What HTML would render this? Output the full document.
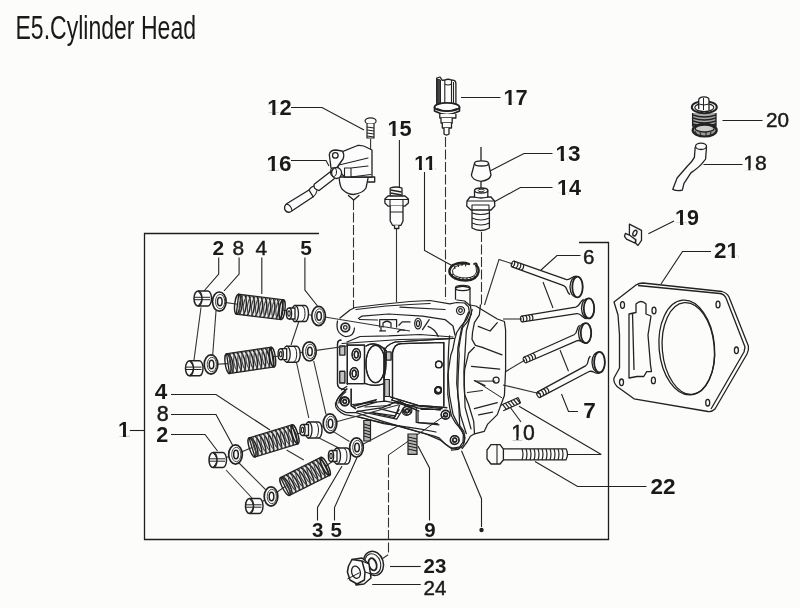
<!DOCTYPE html>
<html><head><meta charset="utf-8">
<style>
html,body{margin:0;padding:0;background:#fcfcfa;width:800px;height:608px;overflow:hidden}
svg{display:block;filter:grayscale(100%)}
text{font-family:"Liberation Sans",sans-serif;fill:#1a1a1a}
.lb{font-weight:bold}
.lr{stroke:#1a1a1a;stroke-width:0.45px}
</style></head><body>
<svg width="800" height="608" viewBox="0 0 800 608">
<defs>
  <g id="spring">
    <path d="M0,-10 L45,-10 L45,10 L0,10 Z" stroke="#222" stroke-width="1.3" fill="#e6e6e6"/>
    <ellipse cx="0" cy="0" rx="2.8" ry="10" fill="none" stroke="#222" stroke-width="1.4"/>
    <ellipse cx="45" cy="0" rx="2.8" ry="10" fill="none" stroke="#222" stroke-width="1.4"/>
    <path d="M2.0,-10 C5.5,-5 5.5,5 3.0,10 M6.1,-10 C9.6,-5 9.6,5 7.1,10 M10.2,-10 C13.7,-5 13.7,5 11.2,10 M14.3,-10 C17.8,-5 17.8,5 15.3,10 M18.4,-10 C21.9,-5 21.9,5 19.4,10 M22.5,-10 C26.0,-5 26.0,5 23.5,10 M26.6,-10 C30.1,-5 30.1,5 27.6,10 M30.7,-10 C34.2,-5 34.2,5 31.7,10 M34.8,-10 C38.3,-5 38.3,5 35.8,10 M38.9,-10 C42.4,-5 42.4,5 39.9,10 M43.0,-10 C46.5,-5 46.5,5 44.0,10" stroke="#222" stroke-width="1.5" fill="none"/>
    <path d="M4.5,-10 C1.0,-4 1.0,4 4.5,10 M8.6,-10 C5.1,-4 5.1,4 8.6,10 M12.7,-10 C9.2,-4 9.2,4 12.7,10 M16.8,-10 C13.3,-4 13.3,4 16.8,10 M20.9,-10 C17.4,-4 17.4,4 20.9,10 M25.0,-10 C21.5,-4 21.5,4 25.0,10 M29.1,-10 C25.6,-4 25.6,4 29.1,10 M33.2,-10 C29.7,-4 29.7,4 33.2,10 M37.3,-10 C33.8,-4 33.8,4 37.3,10 M41.4,-10 C37.9,-4 37.9,4 41.4,10" stroke="#444" stroke-width="1.1" fill="none"/>
  </g>
  <g id="washer">
    <ellipse cx="0" cy="0" rx="6.8" ry="9.6" fill="#fcfcfa" stroke="#222" stroke-width="1.7"/>
    <ellipse cx="0.8" cy="0" rx="4.6" ry="7.2" fill="none" stroke="#333" stroke-width="0.9"/>
    <ellipse cx="0.5" cy="0" rx="2.3" ry="4.2" fill="none" stroke="#222" stroke-width="1.5"/>
  </g>
  <g id="collet">
    <path d="M-5,-7.5 L5,-7.5 A3.5,7.5 0 0 1 5,7.5 L-5,7.5" fill="#fcfcfa" stroke="#222" stroke-width="1.4"/>
    <ellipse cx="-5" cy="0" rx="4" ry="7.5" fill="#fcfcfa" stroke="#222" stroke-width="1.5"/>
    <path d="M-9,-1.2 L7,-1.2 M-9,1.2 L7,1.2" stroke="#222" stroke-width="1" fill="none"/>
    <path d="M-5,-7.5 Q-2,-4 -1,-1.2 M-5,7.5 Q-2,4 -1,1.2" stroke="#222" stroke-width="1" fill="none"/>
  </g>
  <g id="cup">
    <path d="M-3,-8 L7,-8 A3.5,8 0 0 1 7,8 L-3,8 Z" fill="#fcfcfa" stroke="#222" stroke-width="1.4"/>
    <ellipse cx="-3" cy="0" rx="3.5" ry="8" fill="#fcfcfa" stroke="#222" stroke-width="1.3"/>
    <path d="M-9,-5.5 L-3,-5.5 L-3,5.5 L-9,5.5" fill="#fcfcfa" stroke="#222" stroke-width="1.3"/>
    <ellipse cx="-9" cy="0" rx="2.6" ry="5.5" fill="#fcfcfa" stroke="#222" stroke-width="1.4"/>
    <ellipse cx="-9" cy="0" rx="1.2" ry="2.6" fill="none" stroke="#222" stroke-width="1.1"/>
    <path d="M4,-7.5 A3,7.5 0 0 1 4,7.5" fill="none" stroke="#222" stroke-width="1"/>
  </g>
  <g id="valve">
    <path d="M0,-3 L55,-3.3 C60,-3.6 59,-8.5 64,-9.8 M0,3 L55,3.3 C60,3.6 59,8.5 64,9.8" stroke="#222" stroke-width="1.3" fill="none"/>
    <ellipse cx="0" cy="0" rx="1.5" ry="3" fill="none" stroke="#222" stroke-width="1.2"/>
    <path d="M4,-3 q2,3 0,6 M7,-3 q2,3 0,6 M10,-3 q2,3 0,6" stroke="#222" stroke-width="1.2" fill="none"/>
  </g>
</defs>

<!-- Title -->
<text x="15.5" y="38.5" font-size="32.5" textLength="180.5" lengthAdjust="spacingAndGlyphs" fill="#2a2a2a">E5.Cylinder Head</text>

<!-- Frame -->
<path d="M319,233.5 L144.5,233.5 L144.5,539.5 L608.5,539.5 L608.5,242.5 L579,242.5" stroke="#1e1e1e" stroke-width="1.3" fill="none"/>

<!-- Labels -->
<g text-anchor="middle">
<text class="lb" x="279.4" y="115.2" font-size="21.9">12</text>
<text class="lb" x="278.9" y="170.5" font-size="22.5">16</text>
<text class="lb" x="515.5" y="104.8" font-size="21.8">17</text>
<text class="lb" x="399.5" y="135.8" font-size="21.8">15</text>
<text class="lb" x="425.0" y="169.8" font-size="20.5">11</text>
<text class="lb" x="568.0" y="160.7" font-size="22.5">13</text>
<text class="lb" x="569.0" y="194.7" font-size="21.6">14</text>
<text class="lr" x="777.4" y="126.6" font-size="20.7">20</text>
<text class="lr" x="755.1" y="170.4" font-size="21.1">18</text>
<text class="lb" x="687.0" y="225.1" font-size="21.5">19</text>
<text class="lb" x="726.4" y="257.8" font-size="22.4">21</text>
<text class="lb" x="218.3" y="254.9" font-size="20.9">2</text>
<text class="lr" x="238.2" y="254.9" font-size="20.9">8</text>
<text class="lr" x="261.4" y="254.9" font-size="20.9">4</text>
<text class="lb" x="306.0" y="254.9" font-size="20.9">5</text>
<text class="lb" x="160.9" y="398.9" font-size="22.5">4</text>
<text class="lr" x="162.8" y="420.5" font-size="21.5">8</text>
<text class="lb" x="162.2" y="442.1" font-size="21.5">2</text>
<text class="lb" x="123.9" y="436.5" font-size="21.5">1</text>
<text class="lb" x="317.8" y="537.0" font-size="20.5">3</text>
<text class="lb" x="336.1" y="537.0" font-size="20.5">5</text>
<text class="lb" x="429.9" y="537.0" font-size="20.5">9</text>
<text class="lb" x="435.0" y="572.6" font-size="20.5">23</text>
<text class="lr" x="435.0" y="595.1" font-size="20.5">24</text>
<text class="lb" x="589.5" y="418.4" font-size="22.5">7</text>
<text class="lr" x="523.1" y="439.8" font-size="21.2">10</text>
<text class="lb" x="663.1" y="493.8" font-size="22.5">22</text>
<text class="lr" x="588.8" y="263.8" font-size="20.5">6</text>
</g>

<!-- hide feet of 1 -->
<g fill="#fcfcfa"><rect x="267.85" y="112.70" width="4.48" height="2.82"/><rect x="275.56" y="112.70" width="3.55" height="2.82"/><rect x="267.03" y="167.93" width="4.61" height="2.89"/><rect x="274.96" y="167.93" width="3.64" height="2.89"/><rect x="504.00" y="102.31" width="4.46" height="2.80"/><rect x="511.68" y="102.31" width="3.53" height="2.80"/><rect x="388.00" y="133.31" width="4.46" height="2.80"/><rect x="395.68" y="133.31" width="3.53" height="2.80"/><rect x="414.75" y="167.46" width="4.20" height="2.64"/><rect x="421.97" y="167.46" width="3.32" height="2.64"/><rect x="425.02" y="167.46" width="4.20" height="2.64"/><rect x="432.24" y="167.46" width="3.32" height="2.64"/><rect x="556.13" y="158.13" width="4.61" height="2.89"/><rect x="564.06" y="158.13" width="3.64" height="2.89"/><rect x="557.60" y="192.23" width="4.42" height="2.78"/><rect x="565.21" y="192.23" width="3.50" height="2.78"/><rect x="743.97" y="167.99" width="4.32" height="2.71"/><rect x="750.50" y="167.99" width="4.22" height="2.71"/><rect x="675.65" y="222.64" width="4.40" height="2.76"/><rect x="683.23" y="222.64" width="3.48" height="2.76"/><rect x="727.02" y="255.24" width="4.59" height="2.88"/><rect x="734.92" y="255.24" width="3.63" height="2.88"/><rect x="118.53" y="434.04" width="4.40" height="2.76"/><rect x="126.11" y="434.04" width="3.48" height="2.76"/><rect x="511.92" y="437.38" width="4.34" height="2.73"/><rect x="518.48" y="437.38" width="4.24" height="2.73"/></g>
<!-- Leader lines -->
<g stroke="#222" stroke-width="1.1" fill="none">
<path d="M291,107.5 L322,107.5 L364,130"/>
<path d="M291,160.5 L326,160.5 L329,166"/>
<path d="M399.4,140 L399.4,187"/>
<path d="M461,97.5 L500.5,97.5"/>
<path d="M552.5,153.5 L524,153.5 L490,171"/>
<path d="M552.5,187.5 L520.3,187.5 L494,202"/>
<path d="M424.5,172 L424.5,250.5 L452.3,265.7"/>
<path d="M722.5,120.5 L762.5,120.5"/>
<path d="M703.5,164.5 L742.5,164.5"/>
<path d="M648.4,233.7 L674,221"/>
<path d="M711,251.5 L682.5,251.5 L661,284"/>
<path d="M580.5,255.5 L557,255.5 L541,270 M543,282 L553,308"/>
<path d="M578,411.5 L568.5,411.5 L561.5,394 M568.5,371.3 L560,350"/>
<path d="M510,407 L521,422"/>
<path d="M646.5,486.5 L577.6,486.5 L535,461.5"/>
<path d="M601.3,454.5 L567.5,454.5 M601.3,454.5 L519,406.3"/>
<path d="M218.7,257.5 L218.7,274 L204,291"/>
<path d="M239.1,257.5 L239.1,274 L224,291"/>
<path d="M261.8,257.5 L261.8,294"/>
<path d="M304.9,257.5 L304.9,290 L317.5,306"/>
<path d="M129.8,430.5 L144.5,430.5"/>
<path d="M171,394.5 L216,394.5 L270,430"/>
<path d="M171,414.5 L216,414.5 L232.5,445"/>
<path d="M171,434.5 L205,434.5 L217.5,451"/>
<path d="M317.5,520.5 L317.5,507.5 L342,466"/>
<path d="M334.5,520.5 L334.5,507.5 L357,457.5"/>
<path d="M429.5,520.5 L429.5,468 L418,446"/>
<path d="M481.5,527 L481.5,498.7 L461.5,450.8"/>
<path d="M390,566.5 L420.7,566.5"/>
<path d="M372.2,584.5 L420.7,584.5"/>
</g>
<circle cx="481.5" cy="530" r="2.2" fill="#222"/>

<!-- dashed / axis lines -->
<g stroke="#333" stroke-width="1.1" fill="none">
<path d="M353.5,200 L353.5,312" stroke-dasharray="10,2.5"/>
<path d="M445.5,137 L445.5,300" stroke-dasharray="10,2.5"/>
<path d="M388.5,455 L388.5,554.6 L382.2,558.7" stroke-dasharray="10,2.5"/>
<path d="M370.6,139 L370.6,178"/>
<path d="M396.5,228.5 L396.5,302"/>
<path d="M481.5,232 L481.5,305" stroke-dasharray="10,2.5"/>
<path d="M513,264 L499,259.5 L484.5,305"/>
<path d="M522,319 L503,319"/>
<path d="M525,360 L505,372"/>
<path d="M541,394 L503,385"/>
<!-- connecting between rows -->
<path d="M201,307.5 L194,360"/>
<path d="M216,311 L212.5,357.5"/>
<path d="M299,321 L291,345"/>
<path d="M296.4,362 L308.8,418"/>
<path d="M313.7,361 L326,414.4"/>
<path d="M226,470 L252,498"/>
<path d="M238.5,462.5 L265.6,489.6"/>
<path d="M318.6,437.8 L340.8,448.9"/>
<path d="M333.4,431.6 L349.4,441.5"/>
<path d="M286.6,450 L303.8,460"/>
</g>


<!-- ===== Cylinder head ===== -->
<g stroke="#222" stroke-width="1.25" fill="none" stroke-linejoin="round" stroke-linecap="round">
<!-- guide cylinder (part under 11) -->
<path d="M455.5,301 L455.5,288 Q462.5,284.5 470,288 L470,305" fill="#fcfcfa"/>
<ellipse cx="462.7" cy="288" rx="7.3" ry="2.6"/>
<!-- fill body -->
<path d="M340,318 L355,307.5 L410,301.5 L460,299.5 Q470,301 471,312 L458,333 L453,347 L449,375 L449,409 L453.6,423.7 L464,437.5 Q464,447 456,449 L399,426.4 L355.7,416.5 Q337,413 335.4,403.7 L337.5,384 L337.5,342 Z" fill="#fcfcfa" stroke="none"/>
<!-- top rail outer top edge (double) -->
<path d="M340,318 L350,310 L355,307.5 L380,304.5 L410,301.5 L430,300.5 L449.8,303.9 L456.7,302.5 L464.6,303 L468.5,306.9 L469.5,312.8 L466.6,319.7 L460.6,326.6 L456.7,332.5 L454.7,339.4 L452.8,349.3 L450.8,355 L447.8,374.7 L447.8,394.4 L449.8,408.3 L451.4,415.7 L455.6,423.1 L461.3,429.7 L463.4,434.6 L463,442 L459.7,446.9 L451.4,448.6"/>
<path d="M356,309.5 L386,306 L410,304.5 L430,303.5"/>
<path d="M457,300 L464.6,301 L470.5,305.9 L471.5,313.8 L467.5,321.7 L462.6,327.6 L460.6,337.5 L458.7,349.3 L459.2,355 L458.2,374.7 L457.7,394.4 L458.8,405 L459.7,425.6 L463.8,431.3 L465,437.9 L463,445.3 L458,449.4 L451.4,450.2"/>
<!-- rail inner lines -->
<path d="M358.4,318.5 L361.7,316.2 L388.7,314 L422.5,316.2 L445,319.6 L453,326 L455,335"/>
<path d="M400,307.2 L445,309.5"/>
<path d="M359.5,319.5 L377.5,320"/>
<path d="M347,342 L360,336.5 L388.7,335.9 L420,334.5 L453,337"/>
<path d="M342,343.5 L400,339.5 L454,338.5"/>
<!-- left boss top -->
<path d="M337.5,321 Q335,333 345,336.5 Q354,337 354.5,328"/>
<circle cx="345.3" cy="327.4" r="4.3" stroke-width="1.8"/><circle cx="345.3" cy="327.4" r="1.8"/>
<circle cx="460.5" cy="310.5" r="4"/><circle cx="460.5" cy="310.5" r="1.8"/>
<!-- internal top features -->
<path d="M379.7,327 L379.7,319.6 L396.6,319.6 L396.6,327 M383,327 L383,323 Q387,319.5 391,323 L391,327"/>
<path d="M379.7,330.9 L385.4,330.9 M381,327 L381,331"/>
<path d="M398.9,325.2 L402.2,321.9 L410,321.9 M397.7,332 Q400,329 404.5,330.3"/>
<ellipse cx="418" cy="323.6" rx="3.3" ry="5.3"/><ellipse cx="418" cy="323.6" rx="1.5" ry="3"/>
<path d="M422.5,329.7 L429.2,319.6 M428,326.4 Q435,329 438.2,336.5"/>
<!-- right strip / face boundary -->
<path d="M480.4,305 L479.4,314.8 L474.4,322.7 L472.5,332.5 L472,339.4 L475.4,345.4 L482.3,347.3"/>
<path d="M474.4,347.3 L468.5,353.3 L464.6,369.8 L464.1,384.6 L464.6,394.4 L468.5,404.3 L473.7,421.4 L474.5,433.8 L470.4,436.3 L467.1,442 L462.1,448.6"/>
<!-- left frame -->
<path d="M341,340 Q337.5,340 337.5,344 L337.5,384 Q337.5,389 345,389.5"/>
<path d="M347.3,344 L347.3,384"/>
<path d="M347.3,345 L364.5,345 L364.5,383.5 L347.3,383.5"/>
<ellipse cx="356.3" cy="354.5" rx="4.2" ry="6"/><ellipse cx="356.3" cy="354.5" rx="2" ry="3.3"/>
<ellipse cx="354.2" cy="373.5" rx="4.2" ry="6"/><ellipse cx="354.2" cy="373.5" rx="2" ry="3.3"/>
<ellipse cx="375.5" cy="364" rx="9.5" ry="18.7"/>
<path d="M384,348 Q388,363 384,378"/>
<path d="M366,346 Q376,340 386.4,351"/>
<path d="M365,383.5 Q375,387 383,384"/>
<!-- recess -->
<path d="M384,401 L384,353 Q385,345 395,342 L452,338.5"/>
<path d="M392.5,399 L392.5,353 Q394,344 401,343.7 L443.8,342.5 L443.8,406"/>
<path d="M390.4,397 L418,405.3 L446.7,407.6"/>
<path d="M391.5,400 L418,408 L440,410"/>
<circle cx="438.8" cy="364.4" r="3.3"/><circle cx="438" cy="390.6" r="3.3"/>
<!-- tabs -->
<rect x="339.8" y="346" width="5" height="9" fill="#c4c4c4" stroke-width="1.1"/>
<rect x="339.8" y="371.4" width="5" height="11.5" fill="#c4c4c4" stroke-width="1.1"/>
<rect x="386.4" y="352" width="4.6" height="8" fill="#c4c4c4" stroke-width="1.1"/>
<rect x="384.7" y="379.5" width="4.6" height="17" fill="#c4c4c4" stroke-width="1.1"/>
<!-- bottom left boss & rail -->
<path d="M346.8,388.9 Q338,396 336.6,401.2 Q335.5,409 346.4,412.6 L356.1,412.6 L383.7,421.6 L419.5,432.1 L435,436.3 L439.1,437.9 L444.9,443.7 L451.4,448.6"/>
<path d="M357.7,416.7 L383.7,423.6 L419.5,428.9 L436,432"/>
<path d="M341.5,389.9 L346.8,386.5"/>
<circle cx="344.7" cy="401.2" r="4.4" stroke-width="1.8"/><circle cx="344.7" cy="401.2" r="1.9"/>
<path d="M351.2,389 L351.2,405.7 L355.7,408.6"/>
<path d="M352,404.5 L385.4,401.2 L403.2,404.5 L442.2,408.6"/>
<path d="M354.5,406.1 L375.6,400.4"/>
<path d="M357.7,411 L396.7,419.1 L403,409"/>
<path d="M372.4,412.6 L395.1,415.9"/>
<path d="M365,407 L390,405.5"/>
<path d="M416.2,407.8 L416.2,422.4 L439,424.8"/>
<path d="M421,409.4 L440.6,409.4"/>
<circle cx="406.5" cy="411" r="4.4"/><circle cx="406.5" cy="411" r="2"/>
<circle cx="445.5" cy="415" r="4.4"/><circle cx="445.5" cy="415" r="2"/>
<circle cx="454.6" cy="440.2" r="4.4"/><circle cx="454.6" cy="440.2" r="2"/>
<circle cx="438.4" cy="389.7" r="3"/>
<path d="M388.5,455 L445.5,415" stroke-width="1"/>
<!-- right strip -->
<path d="M449.5,335.8 Q447.5,360 448.4,380 L449.5,395.5 L453.1,414.6 L460.3,428.9 Q466,436 464,443"/>
<path d="M468.6,312 L461.5,328.6 L457.9,347.7 L456.7,383.5 L460.3,414.6 L466.3,433.7"/>
<path d="M472.2,309.5 L466.3,331 L463.9,371.6 L465.1,407.4 L471,428.9"/>
<!-- left frame -->
<path d="M341,340 Q337.5,340 337.5,344 L337.5,384 Q337.5,389 345,389.5"/>
<path d="M347.3,344 L347.3,384"/>
<path d="M347.3,345 L364.5,345 L364.5,383.5 L347.3,383.5"/>
<ellipse cx="356.3" cy="354.5" rx="4.2" ry="6"/><ellipse cx="356.3" cy="354.5" rx="2" ry="3.3"/>
<ellipse cx="354.2" cy="373.5" rx="4.2" ry="6"/><ellipse cx="354.2" cy="373.5" rx="2" ry="3.3"/>
<ellipse cx="375.5" cy="364" rx="9.5" ry="18.7"/>
<path d="M384,348 Q388,363 384,378"/>
<path d="M366,346 Q376,340 386.4,351"/>
<path d="M365,383.5 Q375,387 383,384"/>
<!-- recess -->
<path d="M384,401 L384,353 Q385,345 395,342 L452,338.5"/>
<path d="M392.5,399 L392.5,353 Q394,344 401,343.7 L443.8,342.5 L443.8,406"/>
<path d="M390.4,397 L418,405.3 L446.7,407.6"/>
<path d="M391.5,400 L418,408 L440,410"/>
<circle cx="438.8" cy="364.4" r="3.3"/><circle cx="438" cy="390.6" r="3.3"/>
<!-- tabs -->
<rect x="339.8" y="346" width="5" height="9" fill="#c4c4c4" stroke-width="1.1"/>
<rect x="339.8" y="371.4" width="5" height="11.5" fill="#c4c4c4" stroke-width="1.1"/>
<rect x="386.4" y="352" width="4.6" height="8" fill="#c4c4c4" stroke-width="1.1"/>
<rect x="384.7" y="379.5" width="4.6" height="17" fill="#c4c4c4" stroke-width="1.1"/>
<!-- bottom left boss & rail -->
<path d="M346.8,388.9 Q338,396 335.4,403.7 Q335,410 344.8,414.6 L355.7,416.5 L399,426.4 L426,434 L439.8,439.8 L449,446.7 Q456,450 462,447"/>
<path d="M345.8,391.8 Q339,397 338.9,403"/>
<circle cx="344.8" cy="401.7" r="4"/><circle cx="344.8" cy="401.7" r="1.8"/>
<path d="M351.2,389 L351.2,405.7 L355.7,408.6"/>
<path d="M353.7,405.7 L376.4,399.7 M357.6,407.6 L376.4,402.2"/>
<path d="M356.7,411.6 L382.3,407.6 L399,400.7 L418,411 L418,422.6 L437.5,423.7"/>
<path d="M371.5,412.6 L394.2,417.5 L399,409.6 M379.4,408.6 L399,413.6"/>
<path d="M396,401.9 L419,411 M395,416.8 L399.6,405.3"/>
<circle cx="407.6" cy="410.5" r="4.3"/><circle cx="407.6" cy="410.5" r="2"/>
<circle cx="445.6" cy="414.5" r="4.3"/><circle cx="445.6" cy="414.5" r="2"/>
<circle cx="454.8" cy="439.8" r="4.3"/><circle cx="454.8" cy="439.8" r="2"/>
<circle cx="438.4" cy="389.7" r="3"/>
<!-- right face -->
<path d="M470,305 L475.8,306 L497.3,319 L504.4,321.5 L505.6,330 L505.6,370 L504.4,395.5 L497.3,414.6 L487.7,424.1 L484.3,431.3 L474.5,433.8"/>
<path d="M478.2,326.3 L490.1,331 L497.3,322.7"/>
<path d="M482.3,347.3 L502,354.9"/>
<path d="M471.5,366.3 L499.7,369.2"/>
<path d="M474.4,380.6 L485,385.6"/>
<path d="M467.5,392.5 L482.3,390.5"/>
<path d="M474.4,408.7 L497.3,402.6"/>
<path d="M478.6,414.9 L492.5,412.2"/>
<circle cx="496.1" cy="380" r="3"/>
<path d="M475.8,381.1 L494.9,381.1 M475.8,381.1 L502,397.9" stroke-width="1"/>
</g>
<!-- studs under head -->
<g stroke="#222" stroke-width="1.2" fill="#b5b5b5">
<path d="M363.8,420.5 L363.8,441 L370.5,441 L370.5,420.5 Z"/>
<path d="M364,424 L370.5,426 M364,427 L370.5,429 M364,430 L370.5,432 M364,433 L370.5,435 M364,436 L370.5,438" fill="none"/>
<path d="M408,434 L408,454.4 L417,454.4 L417,434 Z"/>
<path d="M408,437 L417,439 M408,440 L417,442 M408,443 L417,445 M408,446 L417,448 M408,449 L417,451" fill="none"/>
</g>
<!-- stud 10 -->
<g transform="translate(502,408) rotate(-24)" stroke="#222" stroke-width="1.2" fill="none">
<path d="M0,-3 L19,-3 M0,3 L19,3 M19,-3 L19,3"/>
<path d="M2,-3 l1.5,6 M5,-3 l1.5,6 M8,-3 l1.5,6 M11,-3 l1.5,6 M14,-3 l1.5,6 M17,-3 l1.5,6"/>
</g>
<!-- bolt 22 -->
<g stroke="#222" stroke-width="1.3" fill="#fcfcfa">
<path d="M491,444.6 L500,444.6 L503.4,449 L503.4,460 L500,464 L491,464 L487,459 L487,450 Z"/>
<path d="M497,445 L497,464" fill="none" stroke-width="1.1"/>
<path d="M503.4,448.8 L566,448.8 Q569,454 566,459.8 L503.4,459.8" fill="none"/>
<path d="M522,449 q2,5 0,11 M526,449 q2,5 0,11 M530,449 q2,5 0,11 M534,449 q2,5 0,11 M538,449 q2,5 0,11 M542,449 q2,5 0,11 M546,449 q2,5 0,11 M550,449 q2,5 0,11 M554,449 q2,5 0,11 M558,449 q2,5 0,11 M562,449 q2,5 0,11" fill="none" stroke-width="1.2"/>
</g>


<!-- ===== Gasket 21 ===== -->
<g stroke="#222" stroke-width="1.3" fill="none" stroke-linejoin="round">
<path d="M614,302 L636,285 Q639,283 643,283 L722,291.5 Q727,293 729,297 L748.4,346 Q749,350 747,354 L715,409 Q712,412 708,411.5 L634,398.8 L617,386.5 Q613,382 614,378 L619.5,368 L619.5,335 L618,315 Z"/>
<path d="M638,285.5 L720,293.5 Q724,294 726,298 L745,347 L744,352 L711,409"/>
<ellipse cx="686.8" cy="347.5" rx="27.7" ry="47.5" transform="rotate(-5 686.8 347.5)"/>
<ellipse cx="688.3" cy="348.5" rx="26" ry="46" transform="rotate(-5 688.3 348.5)"/>
<path d="M629,378 L629,314 L636,312.5 L636,304 Q641,299 646,304 L646,314 L651,316 L648,335 L650.5,365 L651.5,371.7 L646.7,371.7 L643.8,376.5 L637,376.5 Z"/>
<path d="M634,370 L632.5,313"/>
<ellipse cx="622.5" cy="305" rx="2" ry="3.3"/>
<ellipse cx="654" cy="310.5" rx="2" ry="3.3"/>
<ellipse cx="718" cy="304.5" rx="2" ry="3.3"/>
<ellipse cx="736.4" cy="350.3" rx="2" ry="3.3"/>
<ellipse cx="707.7" cy="402.7" rx="2" ry="3.3"/>
<ellipse cx="621.5" cy="382.3" rx="2" ry="3.3"/>
<ellipse cx="653.4" cy="380.4" rx="2" ry="3.3"/>
</g>

<!-- ===== Part 19 clip ===== -->
<g stroke="#222" stroke-width="1.3" fill="#fcfcfa" stroke-linejoin="round">
<path d="M629.4,224.2 L641.5,230.3 L641.5,240.3 L638,245.5 L635.7,243.2 L635.7,239.7 L629.4,236 Z"/>
<path d="M629.4,235.1 L625.4,233.4 L624.5,236.3 L626.5,239.2 L635.1,243.2 L635.7,239.7 Z"/>
<ellipse cx="634.9" cy="233.1" rx="1.8" ry="3" transform="rotate(25 634.9 233.1)" fill="none"/>
</g>

<!-- ===== Part 20 ===== -->
<g stroke="#222" stroke-width="1.3" fill="#fcfcfa">
<path d="M692.6,113 L692.6,126 L716,126 L716,113" fill="#aaa"/>
<path d="M693,115 Q704,119 716,115 M693,118 Q704,122 716,118 M693,121 Q704,125 716,121 M693,124 Q704,128 716,124" fill="none" stroke-width="1.5"/>
<ellipse cx="704.7" cy="130.2" rx="12" ry="6.3" stroke-width="2.2" fill="#999"/>
<ellipse cx="704.7" cy="128.5" rx="9.5" ry="3.5" stroke-width="1.3" fill="#ccc"/>
<path d="M695,131 l2,4 M700,132 l1,4 M706,132 l0,4 M711,132 l-1,4" fill="none" stroke-width="1"/>
<ellipse cx="704.3" cy="107.2" rx="12.5" ry="6" stroke-width="2"/>
<ellipse cx="704.3" cy="107.5" rx="9.5" ry="4" stroke-width="1.2" fill="none"/>
<path d="M698.7,109 L698.7,100 Q699,96.9 704,96.9 Q709,96.9 709,100 L709,109.9" />
<path d="M698.7,104 Q704,106 709,104 M703.5,98 L703.5,110" fill="none" stroke-width="1"/>
</g>

<!-- ===== Part 18 hose ===== -->
<g stroke="#222" stroke-width="1.3" fill="#fcfcfa" stroke-linejoin="round">
<path d="M695.2,147 L694.4,157.4 Q692,162 687.5,166 L677.1,178 L672.8,189.3 Q677,191.5 682.3,190.2 L684,183.3 L690.9,172.9 Q699,167 701.3,164.3 Q705,160 705.6,159 L706.5,147"/>
<ellipse cx="701" cy="146.3" rx="5.5" ry="3.2"/>
</g>

<!-- ===== Part 17 sensor ===== -->
<g stroke="#222" stroke-width="1.3" fill="#fcfcfa" stroke-linejoin="round">
<path d="M436.7,104.5 L436.7,78 L440,77 L442.3,80.4 L444.8,80 Q448,78.5 451.5,80 L454,80.4 Q456,81 455.9,84 L455.9,104.5"/>
<path d="M437.2,79 L437.2,103 L440.5,104 L440.5,80 Z" fill="#444" stroke-width="1"/>
<path d="M444.8,80 L444.8,104.5 M451.5,80 L451.5,104.5 M444.8,84 Q448,86 451.5,84 M453.5,82 L453.5,104" fill="none" stroke-width="1.1"/>
<path d="M434.5,107 L434.5,111 Q447,118 459.5,111 L459.5,107" stroke-width="1.6"/>
<ellipse cx="447" cy="107" rx="12.5" ry="4.2" stroke-width="1.8"/>
<path d="M437,108.5 Q447,113 457,108.5" fill="none" stroke-width="1.2"/>
<path d="M439.8,114 L439.8,118 L455.9,118 L455.9,114"/>
<path d="M441,118 L441,123 L452.2,123 L452.2,118"/>
<path d="M442.3,123 L442.3,128 L451.5,128 L451.5,123"/>
<path d="M444,128 L444,134 Q446.5,136 449,134 L449,128"/>
</g>
<!-- ===== Part 13 cap ===== -->
<g stroke="#222" stroke-width="1.3" fill="#fcfcfa" stroke-linejoin="round">
<path d="M481,147 L481,161" fill="none"/>
<path d="M474.5,163.4 L471.4,175 Q472,180 481,181.4 Q490,180 491,175 L488.6,163.4"/>
<ellipse cx="481.5" cy="163.4" rx="7" ry="2.6"/>
<path d="M481,182 L481,188" fill="none"/>
</g>

<!-- ===== Part 14 sensor ===== -->
<g stroke="#222" stroke-width="1.3" fill="#fcfcfa" stroke-linejoin="round">
<path d="M472,208 L472,228 Q481,233 489.4,228 L489.4,208"/>
<path d="M472,213 Q481,216 489.4,213 M472,218 Q481,222 489.4,218 M472,223 Q481,227 489.4,223" fill="none" stroke-width="1.2"/>
<path d="M470,197 L467,201 L466.7,206 L471,210 L491,210 L494.8,206 L494.5,201 L491,197 Z"/>
<path d="M467,201 L494.5,201 M472,210 L472,205 L489,205 L489,210" fill="none" stroke-width="1.1"/>
<path d="M474.5,197 L474.5,190.5 L487.8,190.5 L487.8,197 Q481,199 474.5,197 Z"/>
<ellipse cx="481.2" cy="190.5" rx="6.6" ry="2.5"/>
<ellipse cx="481.2" cy="190.5" rx="3" ry="1.3" fill="none" stroke-width="1"/>
</g>

<!-- ===== Part 15 sensor ===== -->
<g stroke="#222" stroke-width="1.3" fill="#fcfcfa" stroke-linejoin="round">
<path d="M390.2,197 L390.2,188 Q396,186 402,188 L402,197"/>
<path d="M390.5,190 L401.5,192 M390.5,193 L401.5,195 M390.5,196 L401.5,198" fill="none" stroke-width="1.4"/>
<path d="M388,196 L384.9,199 L384.9,203 L388,206.1 L405,206.1 L408.4,203 L408.4,199 L405,196 Z"/>
<path d="M384.9,199.5 L408.4,199.5 M390,199.5 L390,206 M403,199.5 L403,206" fill="none" stroke-width="1.1"/>
<path d="M390.2,206.1 L390.2,221 L392.5,225.3 L401,225.3 L403,221 L403,206.1"/>
<path d="M390.2,212 L403,212" fill="none" stroke-width="1"/>
<path d="M394.5,225.3 L394.5,228.5 L398.8,228.5 L398.8,225.3"/>
</g>

<!-- ===== Part 12 screw ===== -->
<g stroke="#222" stroke-width="1.2" fill="#fcfcfa">
<ellipse cx="370.6" cy="121" rx="5.5" ry="3.2"/>
<path d="M367,124 L367,138 L374,138 L374,124"/>
<path d="M367,127 L374,128 M367,130 L374,131 M367,133 L374,134 M367,136 L374,137" fill="none"/>
</g>

<!-- ===== Part 16 ===== -->
<g stroke="#222" stroke-width="1.3" fill="#fcfcfa" stroke-linejoin="round" stroke-linecap="round">
<!-- hose seg 2 -->
<path d="M309,190 L287,203.5 Q283.5,206 285,210 Q287.5,213.5 291,211.5 L313.2,196.8 Z"/>
<path d="M286.5,204 Q291,205 292,210.5" fill="none" stroke-width="1.1"/>
<!-- hose seg 1 -->
<path d="M332.6,169.9 L314.2,184.3 Q312.5,189 319.1,190.6 L337.5,176.2 Z"/>
<path d="M309,190 Q311,186.5 314.2,186 M313.2,196.8 Q316.5,194 317,190.5" fill="none" stroke-width="1.1"/>
<!-- base plate & bowl -->
<path d="M339.2,178.4 Q340,188 343,190 Q348,194.5 353.7,194.5 Q363,193 366,188 L368,178.4"/>
<path d="M348.4,195.5 L353.7,200 L359,195.5" fill="none"/>
<path d="M336,177 L374.7,177 L374.7,182 L368,182" fill="none"/>
<!-- block -->
<path d="M338,153.4 L357.6,145.5 Q363,145 368,148 L372,150 L372,177 L351,177 L344.5,177 L338,170 Z"/>
<path d="M338,165.3 L368,158 M351,168 L368,166 M351,177 L370.8,174.5 M351,168 L351,177 M344.5,168 L351,168 M344.5,168 L344.5,177" fill="none" stroke-width="1.1"/>
<!-- ear -->
<path d="M329.3,154.7 Q330,150 336,150 L342,151 Q345,154 343,159 L338,166 L335,171 L331,168 L330,160 Z"/>
<circle cx="335.3" cy="155.4" r="2.8" fill="none"/>
<!-- coupling -->
<ellipse cx="336.6" cy="173" rx="5" ry="5.5"/>
<ellipse cx="333.5" cy="172" rx="3" ry="4.5" fill="none" stroke-width="1"/>
</g>
<!-- ===== Part 11 ring ===== -->
<g stroke="#222" fill="none" stroke-linecap="round">
<path d="M469,264 Q462,261 453,265 Q448,269 450,274 Q454,280 466,280.5 Q477,280 478.5,272 Q479,267 476,265.5" stroke-width="2.4"/>
<path d="M469,264 Q461,263.5 455,267 Q451,270 453,274 Q457,278 466,278 Q475,277.5 476.5,272 L476,265.5" stroke-width="1" />
<path d="M454,266 l1,2.5 M458,264 l0.5,2.5 M462,263 l0,2.5 M466,263.5 l-0.5,2.5 M451,276 l2,-1.5 M455,279 l1,-2 M459,280 l0.5,-2.5 M463,280.5 l0,-2.5 M467,280.5 l0,-2.5 M471,280 l-0.5,-2.5 M475,278 l-1,-2" stroke-width="1.1"/>
<path d="M474,264 Q477,262 477,266" stroke-width="1.8"/>
</g>
<!-- ===== Parts 23/24 ===== -->
<g stroke="#222" stroke-width="1.5" fill="#fcfcfa" stroke-linejoin="round">
<ellipse cx="373.5" cy="563.4" rx="9.8" ry="12.3" transform="rotate(-18 373.5 563.4)"/>
<ellipse cx="372.8" cy="563.8" rx="7.8" ry="10.3" transform="rotate(-18 372.8 563.8)" fill="none" stroke-width="1.1"/>
<ellipse cx="372.6" cy="564.3" rx="3.8" ry="6.3" transform="rotate(-18 372.6 564.3)" fill="none" stroke-width="1.8"/>
<path d="M352,559.5 L362,558 L369,564 L371,578 L364,584 L356,585 Z"/>
<path d="M348.5,566 L352,559.5 L362,561 L365,572 L364.4,580 L357,584 L350,580 L347.4,572 Z"/>
<path d="M362,561 L369,564 M365,572 L371,574" fill="none" stroke-width="1.1"/>
<ellipse cx="356" cy="572.2" rx="4.3" ry="6.2" transform="rotate(-15 356 572.2)" fill="none" stroke-width="1.3"/>
<path d="M347.4,579 L359.3,572.8" fill="none" stroke-width="1"/>
</g>

<!-- row axis lines -->
<g stroke="#333" stroke-width="1.1" fill="none">
<path d="M203,298.5 L219.3,301.6 L237.5,304.2 M282,309.7 L298,313.5 L318.6,316 L410,331"/>
<path d="M194.5,368.3 L211,364.5 L228,363.6 M272.5,357 L289.7,354.2 L309.4,351.4 L347,346"/>
<path d="M218,460 L235.5,454.5 L252,447.5 M295,434.5 L311.5,430 L330,423.5 L399,404.7"/>
<path d="M254.5,506 L271,496.5 L285,486.5 M326,466 L340,456 L356.5,447.5 L399,425.4"/>
</g>
<!-- valve train parts, row A -->
<use href="#collet" transform="translate(203,298.5)"/>
<use href="#washer" transform="translate(219.3,301.6)"/>
<use href="#spring" transform="translate(237.5,304.2) rotate(7)"/>
<use href="#cup" transform="translate(298,313.5)"/>
<use href="#washer" transform="translate(318.6,316)"/>
<!-- row B -->
<use href="#collet" transform="translate(194.5,368.3)"/>
<use href="#washer" transform="translate(211,364.5)"/>
<use href="#spring" transform="translate(228,363.6) rotate(-8.3)"/>
<use href="#cup" transform="translate(289.7,354.2)"/>
<use href="#washer" transform="translate(309.4,351.4)"/>
<!-- row C -->
<use href="#collet" transform="translate(218,460)"/>
<use href="#washer" transform="translate(235.5,454.5)"/>
<use href="#spring" transform="translate(252,447.5) rotate(-17)"/>
<use href="#cup" transform="translate(311.5,430)"/>
<use href="#washer" transform="translate(330,423.5)"/>
<!-- row D -->
<use href="#collet" transform="translate(254.5,506)"/>
<use href="#washer" transform="translate(271,496.5)"/>
<use href="#spring" transform="translate(285,486.5) rotate(-26.6)"/>
<use href="#cup" transform="translate(340,456)"/>
<use href="#washer" transform="translate(356.5,447.5)"/>

<!-- valves 6/7 -->
<use href="#valve" transform="translate(513,264) rotate(19.6)"/>
<use href="#valve" transform="translate(522,319) rotate(-9)"/>
<use href="#valve" transform="translate(525,360) rotate(-23.8)"/>
<use href="#valve" transform="translate(538.6,394.8) rotate(-28.2)"/>
<g stroke="#222" fill="none" stroke-width="1.3">
<path d="M577.0,276.7 Q570.5,277.2 570.0,287 Q570.5,296.8 577.0,297.3"/>
<path d="M588.5,298.4 Q582,298.9 581.5,308.4 Q582,317.9 588.5,318.4"/>
<path d="M585.5,323.1 Q579,323.6 578.5,333.1 Q579,342.6 585.5,343.1"/>
<path d="M599.0,351.9 Q592.5,352.4 592.0,362.2 Q592.5,372.0 599.0,372.5"/>
</g>
<g stroke="#222" fill="#fcfcfa">
<ellipse cx="577.5" cy="287" rx="5.2" ry="10.3" stroke-width="1.8"/>
<path d="M579.5,278 A3,8.5 0 0 1 579.5,296" fill="none" stroke-width="1"/>
<ellipse cx="589" cy="308.4" rx="5.2" ry="10" stroke-width="1.8"/>
<path d="M591,299.5 A3,8.3 0 0 1 591,317.3" fill="none" stroke-width="1"/>
<ellipse cx="586" cy="333.1" rx="5.2" ry="10" stroke-width="1.8"/>
<path d="M588,324.2 A3,8.3 0 0 1 588,342" fill="none" stroke-width="1"/>
<ellipse cx="599.5" cy="362.2" rx="5.4" ry="10.3" stroke-width="1.8"/>
<path d="M601.5,353 A3,8.5 0 0 1 601.5,371.4" fill="none" stroke-width="1"/>
</g>
</svg>
</body></html>
